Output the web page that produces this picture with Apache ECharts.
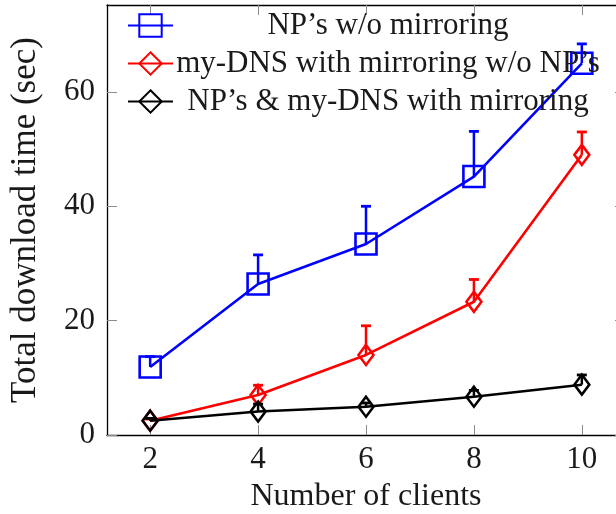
<!DOCTYPE html>
<html>
<head>
<meta charset="utf-8">
<script src="https://cdn.jsdelivr.net/npm/echarts@6/dist/echarts.min.js"></script>
<style>
  html, body { margin: 0; padding: 0; background: #fff; }
  #chart { width: 616px; height: 514px; }
</style>
</head>
<body>
<div id="chart"></div>
<script>
// Number of clients on the x axis
const clients = [2, 4, 6, 8, 10];

// Mean total download time (sec) per configuration
const npNoMirror = [11.9, 26.4, 33.4, 45.2, 65.0];
const dnsMirrorNoNp = [2.5, 7.0, 14.0, 23.3, 49.0];
const npDnsMirror = [2.5, 4.1, 4.95, 6.7, 8.8];

// Upper end of each error bar (sec)
const npNoMirrorTop = [13.7, 31.5, 40.0, 53.1, 68.4];
const dnsMirrorNoNpTop = [2.8, 8.7, 19.1, 27.2, 53.0];
const npDnsMirrorTop = [2.9, 5.4, 5.6, 7.8, 10.5];

// Tick values
const xTicks = [2, 4, 6, 8, 10];
const yTicks = [0, 20, 40, 60];

const seriesNames = [
  "NP\u2019s w/o mirroring",
  "my-DNS with mirroring w/o NP\u2019s",
  "NP\u2019s & my-DNS with mirroring"
];

const FONT = "'Liberation Serif', 'Times New Roman', serif";
const FS = 31;
const TEXT = '#1a1a1a';
const TICK = '#8c8c8c';

function pairs(xs, ys) {
  return xs.map((x, i) => [x, ys[i]]);
}

function errorSeries(color, means, tops, z) {
  return {
    type: 'custom',
    z: z,
    silent: true,
    data: clients.map((x, i) => [x, means[i], tops[i]]),
    encode: { x: 0, y: [1, 2] },
    renderItem: function (params, api) {
      const base = api.coord([api.value(0), api.value(1)]);
      const top = api.coord([api.value(0), api.value(2)]);
      const half = 5;
      return {
        type: 'group',
        children: [
          { type: 'line', shape: { x1: base[0], y1: base[1], x2: top[0], y2: top[1] }, style: { stroke: color, lineWidth: 2.5 } },
          { type: 'line', shape: { x1: top[0] - half, y1: top[1], x2: top[0] + half, y2: top[1] }, style: { stroke: color, lineWidth: 2.8 } }
        ]
      };
    }
  };
}

function lineSeries(name, color, values, symbol, size, z) {
  return {
    name: name,
    type: 'line',
    z: z,
    data: pairs(clients, values),
    symbol: symbol,
    symbolSize: size,
    showSymbol: true,
    showAllSymbol: true,
    silent: true,
    animation: false,
    lineStyle: { color: color, width: 2.6 },
    itemStyle: { color: 'rgba(255,255,255,0)', borderColor: color, borderWidth: 2.6 }
  };
}

const xAxisBase = {
  type: 'value',
  min: 1.2,
  max: 10.8,
  splitLine: { show: false },
  axisLine: { show: true, onZero: false, lineStyle: { color: '#000', width: 1.3 } },
  axisTick: { show: true, inside: true, length: 10, customValues: xTicks, lineStyle: { color: TICK, width: 1 } }
};
const yAxisBase = {
  type: 'value',
  min: 0,
  max: 75.2,
  splitLine: { show: false },
  axisLine: { show: true, onZero: false, lineStyle: { color: '#000', width: 1.3 } },
  axisTick: { show: true, inside: true, length: 10, customValues: yTicks, lineStyle: { color: TICK, width: 1 } }
};

const chart = echarts.init(document.getElementById('chart'), null, { renderer: 'canvas' });

chart.setOption({
  animation: false,
  backgroundColor: '#fff',
  grid: { left: 107, width: 518, top: 5, height: 430, containLabel: false, outerBoundsMode: 'none' },
  legend: {
    orient: 'vertical',
    left: 122,
    top: 5,
    itemWidth: 45,
    itemHeight: 28,
    itemGap: 7,
    selectedMode: false,
    data: seriesNames,
    formatter: function (n) { return '{t|' + n + '}'; },
    textStyle: {
      fontFamily: FONT, fontSize: FS, color: TEXT,
      rich: { t: { width: 420, align: 'center', fontFamily: FONT, fontSize: FS, color: TEXT, lineHeight: 26, height: 26 } }
    }
  },
  xAxis: [
    Object.assign({}, xAxisBase, {
      position: 'bottom',
      name: 'Number of clients',
      nameLocation: 'middle',
      nameGap: 46,
      nameTextStyle: { fontFamily: FONT, fontSize: 32, color: TEXT },
      axisLabel: { show: true, customValues: xTicks, margin: 9, fontFamily: FONT, fontSize: FS, color: TEXT }
    }),
    Object.assign({}, xAxisBase, {
      position: 'top',
      axisLabel: { show: false }
    })
  ],
  yAxis: [
    Object.assign({}, yAxisBase, {
      position: 'left',
      name: 'Total download time (sec)',
      nameLocation: 'middle',
      nameGap: 64,
      nameTextStyle: { fontFamily: FONT, fontSize: 35, color: TEXT },
      axisLabel: { show: true, customValues: yTicks, margin: 12, fontFamily: FONT, fontSize: FS, color: TEXT }
    }),
    Object.assign({}, yAxisBase, {
      position: 'right',
      axisLabel: { show: false }
    })
  ],
  series: [
    errorSeries('#0000ff', npNoMirror, npNoMirrorTop, 2),
    lineSeries(seriesNames[0], '#0000ff', npNoMirror, 'rect', 21, 2),
    errorSeries('#ff0000', dnsMirrorNoNp, dnsMirrorNoNpTop, 3),
    lineSeries(seriesNames[1], '#ff0000', dnsMirrorNoNp, 'diamond', [15, 20], 3),
    errorSeries('#000000', npDnsMirror, npDnsMirrorTop, 4),
    lineSeries(seriesNames[2], '#000000', npDnsMirror, 'diamond', [15, 20], 4)
  ]
});
</script>
</body>
</html>
